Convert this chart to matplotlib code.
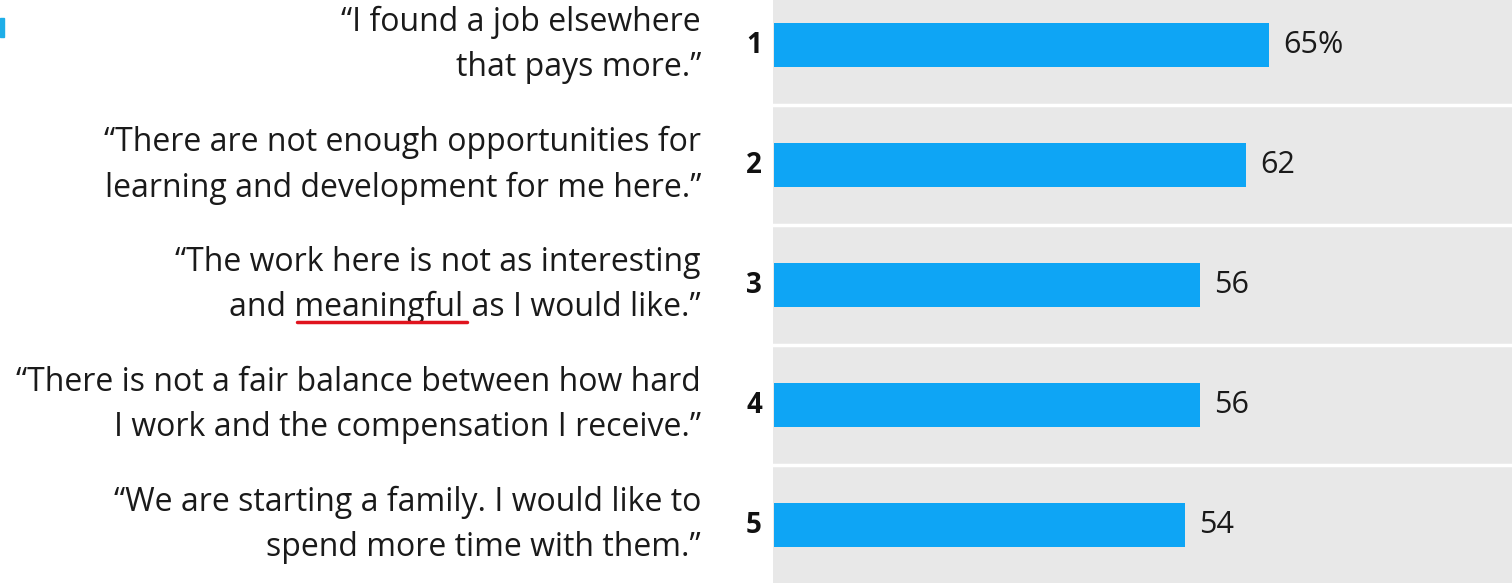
import matplotlib.pyplot as plt
from matplotlib.patches import Rectangle
from matplotlib.lines import Line2D

# reasons for leaving, share of respondents (%)
ranks = ['1', '2', '3', '4', '5']
quotes = [
    '\u201cI found a job elsewhere\nthat pays more.\u201d',
    '\u201cThere are not enough opportunities for\nlearning and development for me here.\u201d',
    '\u201cThe work here is not as interesting\nand meaningful as I would like.\u201d',
    '\u201cThere is not a fair balance between how hard\nI work and the compensation I receive.\u201d',
    '\u201cWe are starting a family. I would like to\nspend more time with them.\u201d',
]
values = [65, 62, 56, 56, 54]
value_labels = ['65%', '62', '56', '56', '54']

plt.rcParams['font.family'] = ['Open Sans', 'DejaVu Sans']

W, H = 1512, 583
fig = plt.figure(figsize=(W / 100, H / 100), dpi=100)
fig.patch.set_facecolor('white')

# grey panel with the bars
ax = fig.add_axes([773 / W, 0, 1 - 773 / W, 1])
ax.set_facecolor('#e8e8e8')

ypos = list(range(len(values)))
ax.barh(ypos, values, height=0.367, color='#0ea5f5', zorder=3)

# white separators between rows
for y in [0.5, 1.5, 2.5, 3.5]:
    ax.axhline(y, color='white', lw=2.5, zorder=2)

ax.set_xlim(-0.13, 96.9)
ax.set_ylim(4.483, -0.375)
ax.set_xticks([])
ax.set_yticks([])
for s in ax.spines.values():
    s.set_visible(False)

for i in ypos:
    # value label at bar end
    ax.annotate(value_labels[i], xy=(values[i], i), xytext=(14, 0),
                textcoords='offset pixels', ha='left', va='center',
                fontsize=22, color='#1a1a1a')
    # rank number
    ax.annotate(ranks[i], xy=(0, i), xytext=(-12, 0),
                textcoords='offset pixels', ha='right', va='center',
                fontsize=20, fontweight='bold', color='#111111',
                annotation_clip=False)
    # quote
    ax.annotate(quotes[i], xy=(0, i), xytext=(-73, 0),
                textcoords='offset pixels', ha='right', va='center',
                multialignment='right', fontsize=23, color='#1a1a1a',
                linespacing=1.5, annotation_clip=False)

# red underline under "meaningful"
fig.add_artist(Line2D([297 / W, 467 / W], [1 - 322 / H, 1 - 322 / H],
                      color='#e0141e', lw=2.5, solid_capstyle='round'))

# small blue marker at top-left
fig.add_artist(Rectangle((0, 1 - 37 / H), 4 / W, 19 / H,
                         color='#1eaee8', transform=fig.transFigure))

fig.savefig('out.png', dpi=100)
